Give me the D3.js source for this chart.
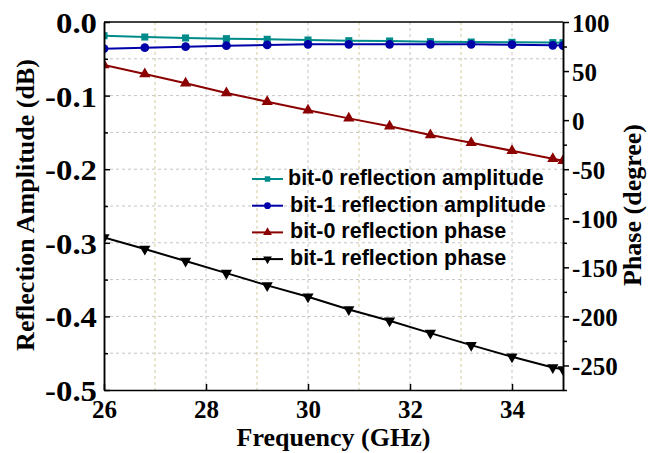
<!DOCTYPE html>
<head>
  <meta charset="utf-8">
  <script src="https://d3js.org/d3.v7.min.js"></script>
</head>
<body>
  <div id="chart"></div>

  <script>
    var width = 659;
    var height = 453;

    // frequency points (GHz)
    var freq = [26, 26.8, 27.6, 28.4, 29.2, 30, 30.8, 31.6, 32.4, 33.2, 34, 34.8, 35];

    // reflection amplitude (dB), left axis
    var amp0 = [-0.0186, -0.0204, -0.0217, -0.0226, -0.0235, -0.0245, -0.0254, -0.0258, -0.0267, -0.0272, -0.0276, -0.028, -0.0281];
    var amp1 = [-0.0362, -0.0349, -0.0335, -0.0322, -0.0312, -0.0303, -0.0303, -0.0303, -0.0303, -0.0303, -0.0308, -0.0317, -0.032];

    // reflection phase (degree), right axis
    var phase0 = [56.2, 47, 37.5, 27.6, 18.8, 10, 1.8, -6.3, -15.2, -23, -31.2, -39.3, -41.4];
    var phase1 = [-119.5, -131.4, -143.6, -155.9, -168.4, -180, -192.9, -204.5, -217, -229.3, -241.2, -252, -254];

    var xTicks = [26, 28, 30, 32, 34];
    var leftTicks = [0, -0.1, -0.2, -0.3, -0.4, -0.5];
    var rightTicks = [100, 50, 0, -50, -100, -150, -200, -250];

    var legendLabels = ['bit-0 reflection amplitude', 'bit-1 reflection amplitude',
                        'bit-0 reflection phase', 'bit-1 reflection phase'];

    var margin = {left: 104, right: 96, top: 22, bottom: 63};
    var iw = width - margin.left - margin.right;
    var ih = height - margin.top - margin.bottom;

    var x = d3.scaleLinear().domain([26, 35]).range([0, iw]);
    var yL = d3.scaleLinear().domain([-0.5, 0]).range([ih, 0]);
    var yR = d3.scaleLinear().domain([-275, 100]).range([ih, 0]);

    // plain hyphen instead of the unicode minus
    var fmtL = d => d3.format('.1f')(d).replace('\u2212', '-');
    var fmtR = d => String(d);

    var svg = d3.select('#chart')
      .append('svg')
        .attr('width', width)
        .attr('height', height);

    var g = svg.append('g')
      .attr('transform', 'translate(' + margin.left + ',' + margin.top + ')');

    g.append('clipPath').attr('id', 'clip')
      .append('rect').attr('width', iw).attr('height', ih);

    // grid
    var grid = g.append('g');
    grid.selectAll('.hg')
      .data(d3.range(-0.45, 0, 0.05))
      .join('line')
        .attr('x1', 0).attr('x2', iw)
        .attr('y1', d => yL(d)).attr('y2', d => yL(d))
        .attr('stroke', '#c4c4c4').attr('stroke-dasharray', '3,3');
    grid.selectAll('.vg')
      .data(d3.range(27, 35, 1))
      .join('line')
        .attr('y1', 0).attr('y2', ih)
        .attr('x1', d => x(d)).attr('x2', d => x(d))
        .attr('stroke', d => d % 2 == 0 ? '#c4c4c4' : '#d2cc9a')
        .attr('stroke-dasharray', '3,3');

    // series
    var series = [
      {vals: amp0, y: yL, color: '#008b8b', shape: d3.symbolSquare, size: 50, rot: 0},
      {vals: amp1, y: yL, color: '#0000a8', shape: d3.symbolCircle, size: 60, rot: 0},
      {vals: phase0, y: yR, color: '#8b0000', shape: d3.symbolTriangle, size: 55, rot: 0},
      {vals: phase1, y: yR, color: '#000000', shape: d3.symbolTriangle, size: 55, rot: 180}
    ];

    var plot = g.append('g').attr('clip-path', 'url(#clip)');

    series.forEach(function(s) {
      var pts = freq.map((f, i) => [f, s.vals[i]]);
      var line = d3.line().x(d => x(d[0])).y(d => s.y(d[1]));
      plot.append('path')
        .datum(pts)
        .attr('fill', 'none')
        .attr('stroke', s.color)
        .attr('stroke-width', 2)
        .attr('d', line);
      plot.selectAll(null)
        .data(pts)
        .join('path')
          .attr('d', d3.symbol().type(s.shape).size(s.size))
          .attr('fill', s.color)
          .attr('transform', d => 'translate(' + x(d[0]) + ',' + s.y(d[1]) + ') rotate(' + s.rot + ')');
    });

    // axes
    var serif = "'Liberation Serif', 'Times New Roman', serif";

    var xAxis = g.append('g')
      .attr('transform', 'translate(0,' + ih + ')')
      .call(d3.axisBottom(x).tickValues(xTicks).tickSizeInner(-6).tickSizeOuter(0).tickPadding(10));

    var leftAxis = g.append('g')
      .call(d3.axisLeft(yL).tickValues(leftTicks).tickFormat(fmtL).tickSizeInner(-6).tickSizeOuter(0).tickPadding(7));
    g.append('g')
      .call(d3.axisLeft(yL).tickValues(d3.range(-0.45, 0, 0.1)).tickFormat('').tickSizeInner(-4).tickSizeOuter(0));

    var rightAxis = g.append('g')
      .attr('transform', 'translate(' + iw + ',0)')
      .call(d3.axisRight(yR).tickValues(rightTicks).tickFormat(fmtR).tickSizeInner(6).tickSizeOuter(0).tickPadding(3));
    g.append('g')
      .attr('transform', 'translate(' + iw + ',0)')
      .call(d3.axisRight(yR).tickValues(d3.range(-275, 100, 50)).tickFormat('').tickSizeInner(4).tickSizeOuter(0));

    // top frame
    g.append('line').attr('x1', 0).attr('x2', iw).attr('y1', 0).attr('y2', 0)
      .attr('stroke', '#000').attr('stroke-width', 1.5);

    g.selectAll('.domain').attr('stroke', '#000').attr('stroke-width', 1.5);
    g.selectAll('.tick line').attr('stroke', '#000').attr('stroke-width', 1.5);
    g.selectAll('.tick text')
      .attr('font-family', serif)
      .attr('font-weight', 'bold')
      .attr('fill', '#000');
    xAxis.selectAll('.tick text').attr('font-size', 25);
    // left labels are drawn a bit wider in the original
    leftAxis.selectAll('.tick text')
      .attr('font-size', 29).attr('dy', '0.36em')
      .attr('x', 0).attr('transform', 'translate(-7,0) scale(1.13,1)');
    rightAxis.selectAll('.tick text').attr('font-size', 25).attr('dy', '0.36em');

    // axis titles
    svg.append('text')
      .attr('x', margin.left + iw / 2).attr('y', 446)
      .attr('text-anchor', 'middle')
      .attr('font-family', serif).attr('font-weight', 'bold').attr('font-size', 26)
      .text('Frequency (GHz)');
    svg.append('text')
      .attr('transform', 'translate(34,205) rotate(-90)')
      .attr('text-anchor', 'middle')
      .attr('font-family', serif).attr('font-weight', 'bold').attr('font-size', 26)
      .text('Reflection Amplitude (dB)');
    svg.append('text')
      .attr('transform', 'translate(641,205) rotate(-90)')
      .attr('text-anchor', 'middle')
      .attr('font-family', serif).attr('font-weight', 'bold').attr('font-size', 26)
      .text('Phase (degree)');

    // legend
    var legend = svg.append('g').attr('transform', 'translate(252,185)');
    var item = legend.selectAll('g')
      .data(series)
      .join('g')
        .attr('transform', (d, i) => 'translate(0,' + (i * 26.7) + ')');
    item.append('line')
      .attr('x1', 0).attr('x2', 31).attr('y1', -6).attr('y2', -6)
      .attr('stroke', d => d.color).attr('stroke-width', 2);
    item.append('path')
      .attr('d', d => d3.symbol().type(d.shape).size(d.size * 0.6)())
      .attr('fill', d => d.color)
      .attr('transform', d => 'translate(15.5,-6) rotate(' + d.rot + ')');
    item.append('text')
      .attr('x', (d, i) => i == 0 ? 36 : 38)
      .attr('font-family', "'Liberation Sans', Arial, sans-serif")
      .attr('font-weight', 'bold')
      .attr('font-size', 21.5)
      .attr('fill', '#000')
      .text((d, i) => legendLabels[i]);
  </script>
</body>

<style>
  body {
    margin: 0;
    background-color: #fff;
  }
</style>
